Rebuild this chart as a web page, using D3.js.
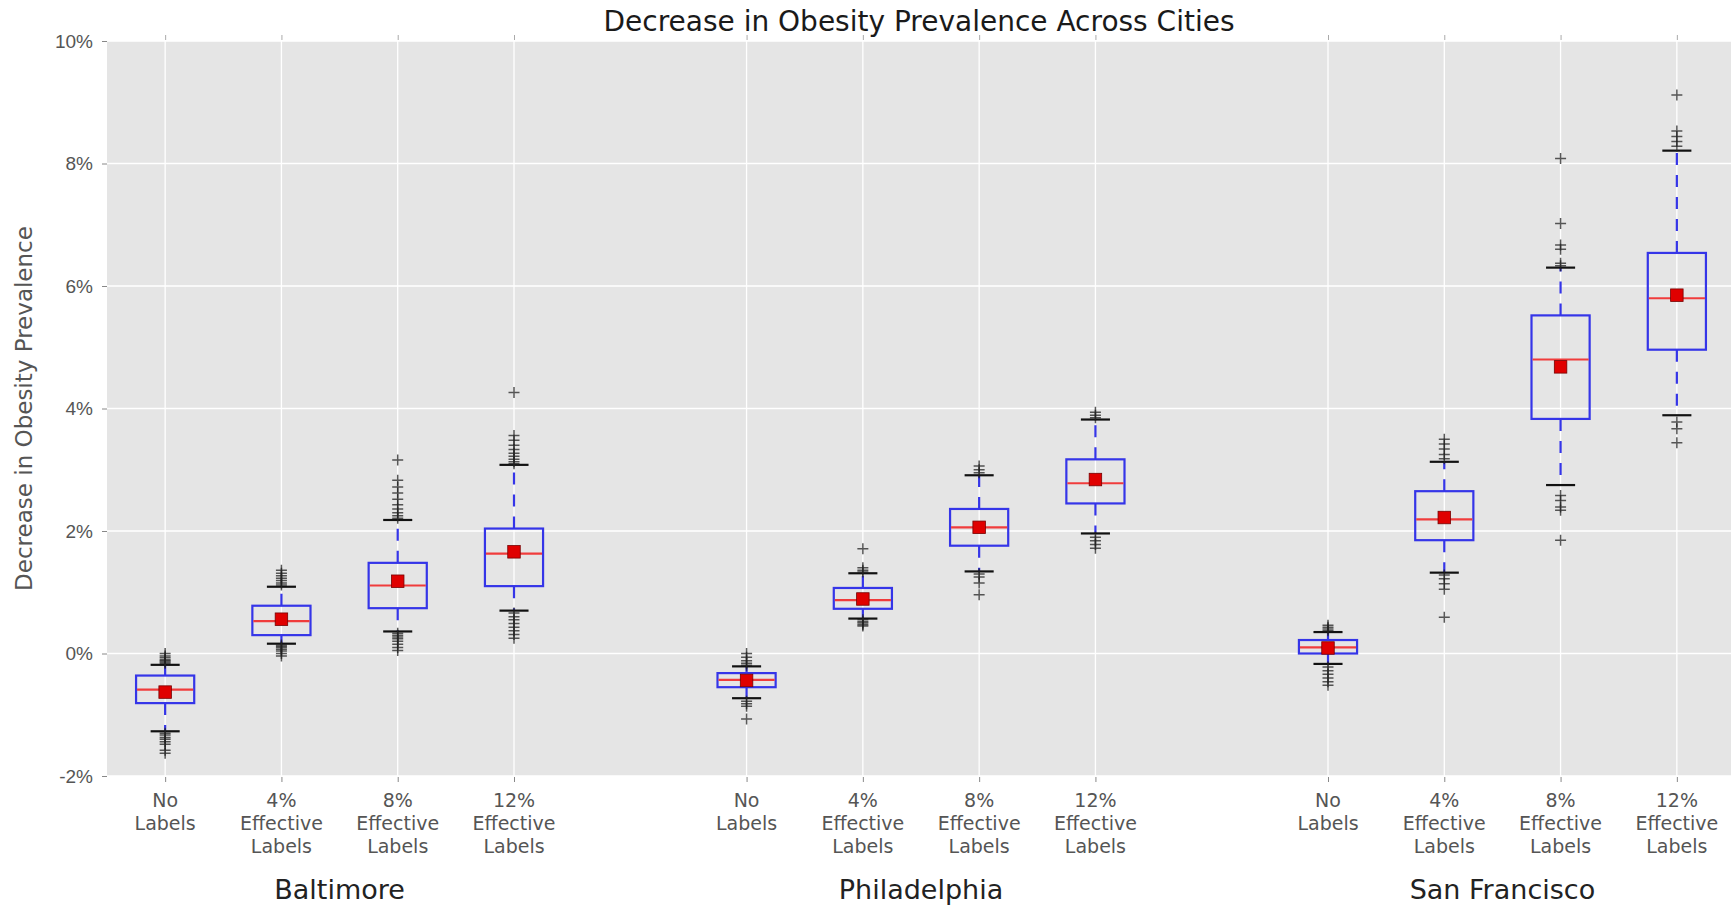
<!DOCTYPE html>
<html>
<head>
<meta charset="utf-8">
<script src="https://cdn.jsdelivr.net/npm/d3@7"></script>
<style>
  html, body { margin: 0; padding: 0; background: #fff; }
  svg { display: block; font-family: "DejaVu Sans", sans-serif; }
</style>
</head>
<body>
<div id="chart"></div>
<script>
// Data (values in %)
const cities = ["Baltimore", "Philadelphia", "San Francisco"];
const scenarioLabels = ["No\nLabels", "4%\nEffective\nLabels", "8%\nEffective\nLabels", "12%\nEffective\nLabels"];
const positions = [1, 2, 3, 4, 6, 7, 8, 9, 11, 12, 13, 14];
const cityCenters = [2.5, 7.5, 12.5];

const whiskerLow  = [-1.27, 0.16, 0.36, 0.70, -0.73, 0.57, 1.34, 1.96, -0.17, 1.32, 2.75, 3.89];
const q1          = [-0.81, 0.30, 0.74, 1.10, -0.55, 0.73, 1.76, 2.45, 0.00, 1.85, 3.83, 4.96];
const median      = [-0.59, 0.53, 1.11, 1.63, -0.43, 0.87, 2.06, 2.78, 0.10, 2.19, 4.80, 5.80];
const q3          = [-0.36, 0.78, 1.48, 2.04, -0.32, 1.07, 2.36, 3.17, 0.22, 2.65, 5.52, 6.54];
const whiskerHigh = [-0.185, 1.09, 2.18, 3.08, -0.21, 1.31, 2.91, 3.82, 0.35, 3.13, 6.30, 8.21];
const means       = [-0.63, 0.56, 1.18, 1.66, -0.44, 0.89, 2.06, 2.84, 0.09, 2.22, 4.68, 5.85];

const fliers = [
  [-0.16, -0.14, -0.12, -0.1, -0.07, -0.04, 0.0, -1.3, -1.33, -1.37, -1.4, -1.44, -1.48, -1.58, -1.63],
  [1.12, 1.15, 1.19, 1.23, 1.27, 1.31, 1.36, 0.14, 0.12, 0.1, 0.07, 0.04, 0.0, -0.04],
  [2.21, 2.25, 2.3, 2.36, 2.43, 2.52, 2.62, 2.72, 2.83, 3.16, 0.33, 0.3, 0.27, 0.24, 0.2, 0.15, 0.1, 0.05],
  [3.1, 3.13, 3.17, 3.22, 3.27, 3.33, 3.4, 3.48, 3.56, 4.26, 0.66, 0.6, 0.55, 0.49, 0.43, 0.37, 0.31, 0.25],
  [-0.19, -0.16, -0.12, -0.06, 0.0, -0.78, -0.82, -0.86, -1.07],
  [1.33, 1.36, 1.4, 1.71, 0.55, 0.52, 0.5, 0.47, 0.45],
  [2.95, 3.0, 3.06, 1.3, 1.25, 1.15, 0.96],
  [3.85, 3.89, 3.94, 1.9, 1.84, 1.78, 1.72],
  [0.37, 0.4, 0.43, 0.46, -0.22, -0.28, -0.34, -0.4, -0.46, -0.52],
  [3.18, 3.25, 3.34, 3.42, 3.5, 1.28, 1.22, 1.14, 1.05, 0.59],
  [6.33, 6.37, 6.6, 6.67, 7.02, 8.08, 2.58, 2.5, 2.39, 2.34, 1.85],
  [8.28, 8.36, 8.44, 8.53, 9.12, 3.78, 3.67, 3.44]
];

const yTicks = [-2, 0, 2, 4, 6, 8, 10];

const width = 1731, height = 905;
const margin = { top: 41, left: 107, bottom: 776 };
const plotRight = 1735;

const svg = d3.select("#chart").append("svg")
  .attr("width", width)
  .attr("height", height);

const x = d3.scaleLinear().domain([0.5, 14.5]).range([margin.left, plotRight]);
const y = d3.scaleLinear().domain([-2, 10]).range([margin.bottom, margin.top]);

const boxes = positions.map((p, i) => ({
  pos: p,
  lo: whiskerLow[i], q1: q1[i], med: median[i], q3: q3[i], hi: whiskerHigh[i],
  mean: means[i], fliers: fliers[i],
  label: scenarioLabels[i % 4]
}));

// background
svg.append("rect")
  .attr("x", margin.left).attr("y", margin.top)
  .attr("width", plotRight - margin.left)
  .attr("height", margin.bottom - margin.top)
  .attr("fill", "#e5e5e5");

// grid
const grid = svg.append("g");
grid.selectAll("line.h").data(yTicks).join("line")
  .attr("x1", margin.left).attr("x2", plotRight)
  .attr("y1", d => y(d)).attr("y2", d => y(d))
  .attr("stroke", "#fff").attr("stroke-width", 1.3);
grid.selectAll("line.v").data(positions).join("line")
  .attr("y1", margin.top).attr("y2", margin.bottom)
  .attr("x1", d => x(d)).attr("x2", d => x(d))
  .attr("stroke", "#fff").attr("stroke-width", 1.3);

// axes
const yAxis = d3.axisLeft(y).tickValues(yTicks)
  .tickFormat(d => d + "%").tickSize(5).tickPadding(9);
const yg = svg.append("g").attr("transform", `translate(${margin.left},0)`).call(yAxis);
yg.select(".domain").remove();
yg.selectAll(".tick line").attr("stroke", "#888");
yg.selectAll(".tick text").attr("fill", "#555").style("font-size", "19px");

const xBottom = d3.axisBottom(x).tickValues(positions).tickFormat("").tickSize(5);
const xb = svg.append("g").attr("transform", `translate(0,${margin.bottom + 1})`).call(xBottom);
xb.select(".domain").remove();
xb.selectAll(".tick line").attr("stroke", "#888");

const xTop = d3.axisTop(x).tickValues(positions).tickFormat("").tickSize(5);
const xt = svg.append("g").attr("transform", `translate(0,${margin.top - 1})`).call(xTop);
xt.select(".domain").remove();
xt.selectAll(".tick line").attr("stroke", "#aaa");

// x tick labels (multi-line)
const xl = svg.append("g").selectAll("text").data(boxes).join("text")
  .attr("text-anchor", "middle")
  .attr("fill", "#555")
  .style("font-size", "19px")
  .attr("x", d => x(d.pos))
  .attr("y", 807);
xl.selectAll("tspan").data(d => d.label.split("\n").map(t => ({ t, px: x(d.pos) }))).join("tspan")
  .attr("x", d => d.px)
  .attr("dy", (d, i) => i === 0 ? 0 : 23)
  .text(d => d.t);

// city labels
svg.append("g").selectAll("text").data(cities).join("text")
  .attr("text-anchor", "middle")
  .attr("fill", "#222")
  .style("font-size", "27px")
  .attr("x", (d, i) => x(cityCenters[i]))
  .attr("y", 899)
  .text(d => d);

// title
svg.append("text")
  .attr("x", x(7.5) - 2).attr("y", 31)
  .attr("text-anchor", "middle")
  .attr("fill", "#1a1a1a")
  .style("font-size", "28px")
  .text("Decrease in Obesity Prevalence Across Cities");

// y label
svg.append("text")
  .attr("transform", `translate(32,${(margin.top + margin.bottom) / 2}) rotate(-90)`)
  .attr("text-anchor", "middle")
  .attr("fill", "#555")
  .style("font-size", "23px")
  .text("Decrease in Obesity Prevalence");

// boxes
const boxW = x(1.5) - x(1);
const capW = boxW / 2;
const blue = "#3535e8";

const bg = svg.append("g").selectAll("g").data(boxes).join("g");

// whiskers (dashed)
bg.append("line")
  .attr("x1", d => x(d.pos)).attr("x2", d => x(d.pos))
  .attr("y1", d => y(d.q3)).attr("y2", d => y(d.hi))
  .attr("stroke", blue).attr("stroke-width", 2.2).attr("stroke-dasharray", "12,10");
bg.append("line")
  .attr("x1", d => x(d.pos)).attr("x2", d => x(d.pos))
  .attr("y1", d => y(d.q1)).attr("y2", d => y(d.lo))
  .attr("stroke", blue).attr("stroke-width", 2.2).attr("stroke-dasharray", "12,10");

// caps
bg.selectAll("line.cap").data(d => [d.lo, d.hi].map(v => ({ v, pos: d.pos }))).join("line")
  .attr("x1", d => x(d.pos) - capW / 2).attr("x2", d => x(d.pos) + capW / 2)
  .attr("y1", d => y(d.v)).attr("y2", d => y(d.v))
  .attr("stroke", "#111").attr("stroke-width", 2.2);

// box
bg.append("rect")
  .attr("x", d => x(d.pos) - boxW / 2)
  .attr("width", boxW)
  .attr("y", d => y(d.q3))
  .attr("height", d => y(d.q1) - y(d.q3))
  .attr("fill", "none")
  .attr("stroke", blue).attr("stroke-width", 2.2);

// median
bg.append("line")
  .attr("x1", d => x(d.pos) - boxW / 2 + 1).attr("x2", d => x(d.pos) + boxW / 2 - 1)
  .attr("y1", d => y(d.med)).attr("y2", d => y(d.med))
  .attr("stroke", "#f03c3c").attr("stroke-width", 2.2);

// fliers (+)
const fs = 5.5;
bg.selectAll("path.flier").data(d => d.fliers.map(v => ({ v, pos: d.pos }))).join("path")
  .attr("d", d => {
    const cx = x(d.pos), cy = y(d.v);
    return `M${cx - fs},${cy}H${cx + fs}M${cx},${cy - fs}V${cy + fs}`;
  })
  .attr("stroke", "#222").attr("stroke-opacity", 0.75).attr("stroke-width", 1.5)
  .attr("fill", "none");

// mean markers
const ms = 12.5;
bg.append("rect")
  .attr("x", d => x(d.pos) - ms / 2)
  .attr("y", d => y(d.mean) - ms / 2)
  .attr("width", ms).attr("height", ms)
  .attr("fill", "#e00000")
  .attr("stroke", "#700").attr("stroke-width", 0.8);
</script>
</body>
</html>
